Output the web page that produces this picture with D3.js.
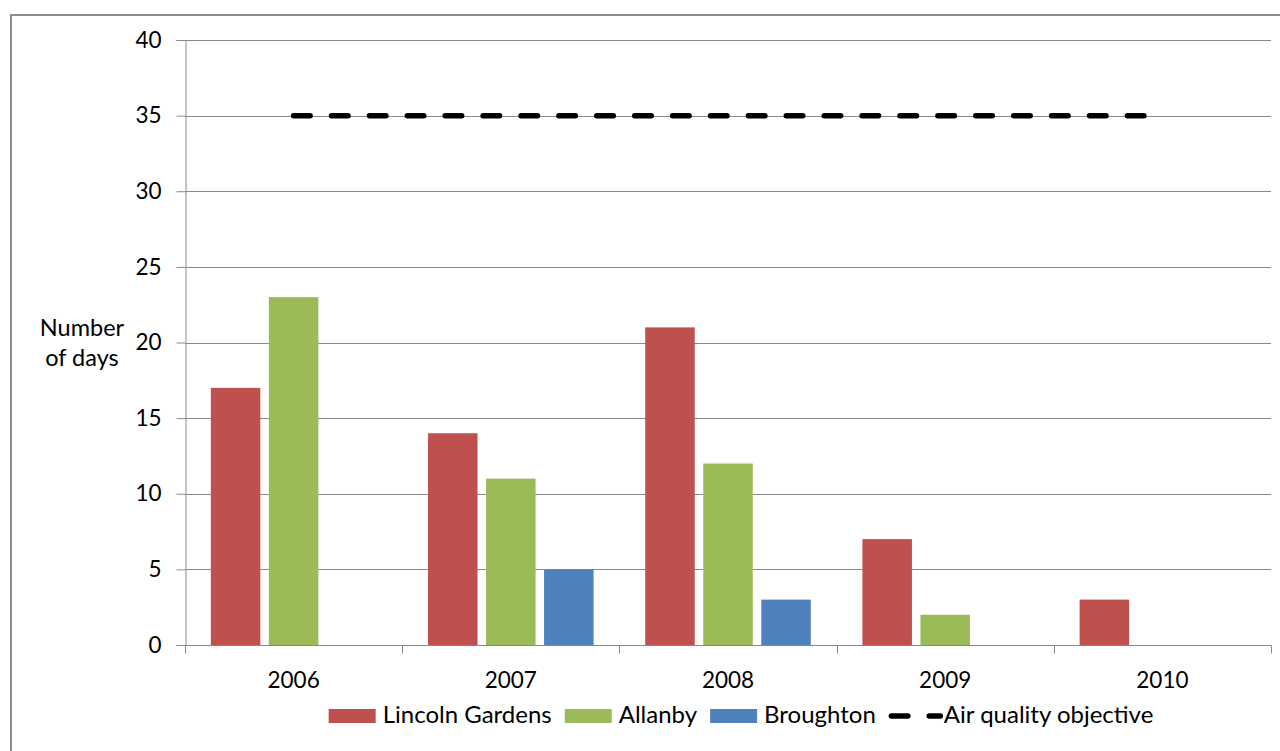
<!DOCTYPE html>
<html>
<head>
<meta charset="utf-8">
<script src="https://cdn.jsdelivr.net/npm/d3@7"></script>
<style>
  html, body { margin: 0; padding: 0; background: #ffffff; }
  svg { display: block; }
  text { font-family: Lato, "Open Sans", sans-serif; fill: #000; }
</style>
</head>
<body>
<svg id="chart" width="1280" height="751"></svg>
<script>
// Days exceeding the PM10 daily limit, by monitoring site
const years = ["2006", "2007", "2008", "2009", "2010"];
const lincolnGardens = [17, 14, 21, 7, 3];
const allanby = [23, 11, 12, 2, 0];
const broughton = [0, 5, 3, 0, 0];
const airQualityObjective = [35, 35, 35, 35, 35];
const yTickValues = [0, 5, 10, 15, 20, 25, 30, 35, 40];
const seriesNames = ["Lincoln Gardens", "Allanby", "Broughton"];
const objectiveName = "Air quality objective";

const seriesValues = [lincolnGardens, allanby, broughton];
const colors = ["#C0504D", "#9BBB59", "#4F81BD"];

const svg = d3.select("#chart");
const plot = { left: 185, right: 1271, top: 40, bottom: 645 };
const gridColor = "#8a8a8a";

// Outer chart border
svg.append("rect")
  .attr("x", 11).attr("y", 15)
  .attr("width", 1300).attr("height", 800)
  .attr("fill", "none").attr("stroke", "#8c8c8c").attr("stroke-width", 2);

const x0 = d3.scaleBand().domain(years).range([plot.left, plot.right]).padding(0);
const x1 = d3.scaleBand().domain(d3.range(seriesNames.length))
  .range([0, x0.bandwidth()]).paddingInner(0.1466).paddingOuter(0.445);
const y = d3.scaleLinear().domain([0, 40]).range([plot.bottom, plot.top]);

// Horizontal gridlines
svg.append("g").selectAll("line").data(yTickValues.filter(v => v > 0)).join("line")
  .attr("x1", plot.left).attr("x2", plot.right)
  .attr("y1", d => Math.round(y(d)) + 0.5).attr("y2", d => Math.round(y(d)) + 0.5)
  .attr("stroke", gridColor).attr("stroke-width", 1);

// Y axis
const yAxis = svg.append("g")
  .attr("transform", `translate(${plot.left + 0.5},0)`)
  .call(d3.axisLeft(y).tickValues(yTickValues).tickSize(9).tickPadding(15).tickFormat(d3.format("d")));
yAxis.select(".domain").attr("stroke", gridColor);
yAxis.selectAll(".tick line").attr("stroke", gridColor);
yAxis.selectAll(".tick text")
  .attr("font-family", "Lato, sans-serif").attr("font-size", 22.5).attr("fill", "#000");

// Bars
const groups = svg.append("g").selectAll("g").data(years).join("g")
  .attr("transform", d => `translate(${x0(d)},0)`);
groups.selectAll("rect")
  .data((d, i) => seriesValues.map((vals, s) => ({ s, v: vals[i] })))
  .join("rect")
  .attr("x", d => x1(d.s))
  .attr("width", x1.bandwidth())
  .attr("y", d => y(d.v))
  .attr("height", d => y(0) - y(d.v))
  .attr("fill", d => colors[d.s]);

// X axis with ticks at category boundaries
const xAxisG = svg.append("g").attr("transform", `translate(0,${plot.bottom + 0.5})`);
xAxisG.append("line")
  .attr("x1", plot.left).attr("x2", plot.right)
  .attr("stroke", gridColor);
const boundaries = years.map(yr => x0(yr)).concat([plot.right]);
xAxisG.selectAll("line.tick").data(boundaries).join("line")
  .attr("class", "tick")
  .attr("x1", d => Math.round(d) + 0.5).attr("x2", d => Math.round(d) + 0.5)
  .attr("y1", 0).attr("y2", 8)
  .attr("stroke", gridColor);
xAxisG.selectAll("text").data(years).join("text")
  .attr("x", d => x0(d) + x0.bandwidth() / 2)
  .attr("y", 42)
  .attr("text-anchor", "middle")
  .attr("font-size", 22.5)
  .text(d => d);

// Air quality objective line through category centres
const objLine = d3.line()
  .x((d, i) => x0(years[i]) + x0.bandwidth() / 2)
  .y(d => y(d));
svg.append("path")
  .datum(airQualityObjective)
  .attr("d", objLine)
  .attr("fill", "none")
  .attr("stroke", "#000")
  .attr("stroke-width", 5.5)
  .attr("stroke-linecap", "round")
  .attr("stroke-dasharray", "16.5 21.4");

// Y axis title
const yTitle = svg.append("text").attr("text-anchor", "middle").attr("font-size", 23.5);
yTitle.append("tspan").attr("x", 82).attr("y", 336).text("Number");
yTitle.append("tspan").attr("x", 82).attr("y", 366).text("of days");

// Legend
const legend = svg.append("g");
const legendY = 723;
const items = seriesNames.map((n, i) => ({ name: n, type: "bar", color: colors[i] }))
  .concat([{ name: objectiveName, type: "line" }]);
let cx = 0;
items.forEach(it => {
  const g = legend.append("g");
  if (it.type === "bar") {
    g.append("rect").attr("x", cx).attr("y", legendY - 14)
      .attr("width", 47).attr("height", 14).attr("fill", it.color);
  } else {
    g.append("line").attr("x1", cx + 2.5).attr("x2", cx + 51.5)
      .attr("y1", legendY - 7).attr("y2", legendY - 7)
      .attr("stroke", "#000").attr("stroke-width", 5.5)
      .attr("stroke-linecap", "round").attr("stroke-dasharray", "16.5 21.4");
  }
  const tx = cx + (it.type === "bar" ? 54 : 55);
  const t = g.append("text").attr("x", tx).attr("y", legendY)
    .attr("font-size", 24).text(it.name);
  cx = tx + t.node().getComputedTextLength() + 13;
});
const legendWidth = cx - 13;
legend.attr("transform", `translate(${741 - legendWidth / 2},0)`);
</script>
</body>
</html>
